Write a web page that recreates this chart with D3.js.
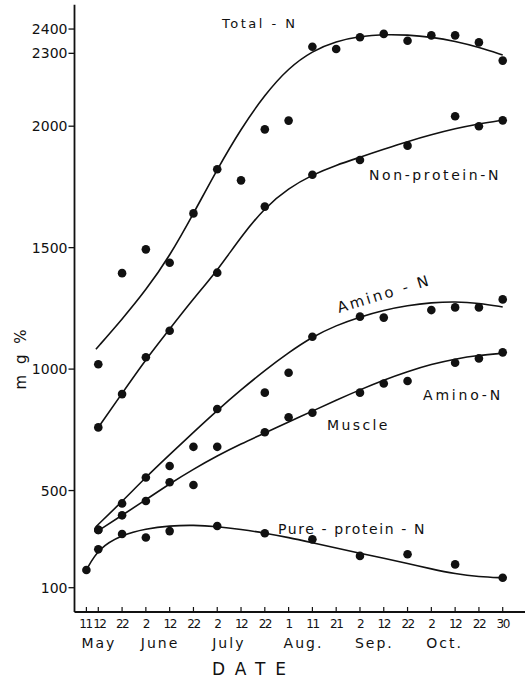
<!DOCTYPE html>
<html>
<head>
<meta charset="utf-8">
<script src="https://cdn.jsdelivr.net/npm/d3@7"></script>
<style>
  body { margin: 0; background: #fff; }
  text { font-family: "DejaVu Sans", sans-serif; fill: #111; }
</style>
</head>
<body>
<div id="chart"></div>
<script>
// sampling dates; position is the 10-day period counted from May 12
const tickLabels = ["11","12","22","2","12","22","2","12","22","1","11","21","2","12","22","2","12","22","30"];
const tickPos = [-0.5, 0, 1, 2, 3, 4, 5, 6, 7, 8, 9, 10, 11, 12, 13, 14, 15, 16, 17];
const months = ["May", "June", "July", "Aug.", "Sep.", "Oct."];
const monthStart = [-0.5, 2, 5, 8, 11, 14];
const yTicks = [100, 500, 1000, 1500, 2000, 2300, 2400];

// measured points (mg %)
const totalN = [[0,1020],[1,1395],[2,1493],[3,1438],[4,1641],[5,1823],[6,1777],[7,1987],[8,2023],
  [9,2327],[10,2318],[11,2366],[12,2380],[13,2352],[14,2374],[15,2374],[16,2345],[17,2270]];
const nonProteinN = [[0,760],[1,897],[2,1049],[3,1158],[5,1397],[7,1669],[9,1800],[11,1861],
  [13,1920],[15,2041],[16,2000],[17,2024]];
const aminoN = [[0,338],[1,447],[2,554],[3,601],[4,680],[5,836],[7,903],[8,985],[9,1133],
  [11,1216],[12,1212],[14,1243],[15,1254],[16,1254],[17,1287]];
const muscleAminoN = [[0,338],[1,398],[2,457],[3,534],[4,523],[5,680],[7,740],[8,802],[9,820],
  [11,903],[12,941],[13,951],[15,1026],[16,1044],[17,1069]];
const pureProteinN = [[-0.5,173],[0,258],[1,321],[2,307],[3,333],[5,354],[7,324],[9,299],
  [11,231],[13,238],[15,196],[17,141]];

// hand-fitted curves as drawn
const totalFit = [[-0.1,1082],[1,1205],[2,1325],[3,1465],[4,1640],[5,1823],[6,1990],[7,2130],
  [8,2240],[9,2310],[10,2350],[11,2370],[12,2378],[13,2376],[14,2367],[15,2350],[16,2325],[17,2293]];
const nonProteinFit = [[0,760],[1,900],[2,1040],[3,1165],[4,1290],[5,1405],[6,1545],[7,1665],
  [8,1745],[9,1800],[10,1840],[11,1872],[12,1905],[13,1937],[14,1965],[15,1990],[16,2010],[17,2025]];
const aminoFit = [[-0.1,351],[1,455],[2,555],[3,648],[4,740],[5,830],[6,915],[7,995],[8,1068],
  [9,1133],[10,1180],[11,1215],[12,1243],[13,1262],[14,1274],[15,1278],[16,1272],[17,1256]];
const muscleFit = [[0,335],[1,398],[2,462],[3,528],[4,588],[5,643],[6,692],[7,737],[8,782],
  [9,827],[10,872],[11,915],[12,955],[13,990],[14,1020],[15,1042],[16,1057],[17,1065]];
const pureFit = [[-0.5,173],[0,262],[1,318],[2,343],[3,355],[4,358],[5,352],[6,340],[7,325],
  [8,307],[9,285],[10,263],[11,242],[12,221],[13,200],[14,177],[15,157],[16,145],[17,141]];

const width = 525;
const height = 679;

const svg = d3.select("#chart")
  .append("svg")
  .attr("width", width)
  .attr("height", height);

const x = d3.scaleLinear().domain([-1, 18]).range([74.5, 526.5]);
const y = d3.scaleLinear().domain([0, 2500]).range([612, 4.75]);

// axes
svg.append("line")
  .attr("x1", x(-1)).attr("x2", x(-1))
  .attr("y1", y(2500)).attr("y2", y(0))
  .attr("stroke", "#111").attr("stroke-width", 1.8);
svg.append("line")
  .attr("x1", x(-1)).attr("x2", width)
  .attr("y1", y(0)).attr("y2", y(0))
  .attr("stroke", "#111").attr("stroke-width", 1.8);

svg.selectAll(".ytick")
  .data(yTicks)
  .enter().append("line")
  .attr("x1", x(-1) - 6).attr("x2", x(-1))
  .attr("y1", d => y(d)).attr("y2", d => y(d))
  .attr("stroke", "#111").attr("stroke-width", 1.3);

svg.selectAll(".ylab")
  .data(yTicks)
  .enter().append("text")
  .attr("x", x(-1) - 7)
  .attr("y", d => y(d))
  .attr("dy", "0.36em")
  .attr("text-anchor", "end")
  .style("font-size", "14px")
  .text(d => d);

svg.selectAll(".xtick")
  .data(tickPos)
  .enter().append("line")
  .attr("x1", d => x(d)).attr("x2", d => x(d))
  .attr("y1", y(0) - 5).attr("y2", y(0))
  .attr("stroke", "#111").attr("stroke-width", 1.2);

svg.selectAll(".xlab")
  .data(tickPos)
  .enter().append("text")
  .attr("x", (d, i) => x(d) + (i === 0 ? -1 : i === 1 ? 1 : 0))
  .attr("y", 628)
  .attr("text-anchor", "middle")
  .style("font-size", "12px")
  .style("letter-spacing", "-1.5px")
  .text((d, i) => tickLabels[i]);

svg.selectAll(".month")
  .data(months)
  .enter().append("text")
  .attr("x", (d, i) => x(monthStart[i]) - 5)
  .attr("y", 648)
  .style("font-size", "14px")
  .style("letter-spacing", "2px")
  .text(d => d);

svg.append("text")
  .attr("x", 254).attr("y", 675)
  .attr("text-anchor", "middle")
  .style("font-size", "17px")
  .style("letter-spacing", "10px")
  .text("DATE");

svg.append("text")
  .attr("transform", "translate(26,358) rotate(-90)")
  .attr("text-anchor", "middle")
  .style("font-size", "15px")
  .style("letter-spacing", "3px")
  .text("m g %");

// curves
const line = d3.line()
  .x(d => x(d[0]))
  .y(d => y(d[1]))
  .curve(d3.curveBasis);

[totalFit, nonProteinFit, aminoFit, muscleFit, pureFit].forEach(fit => {
  svg.append("path")
    .attr("d", line(fit))
    .attr("fill", "none")
    .attr("stroke", "#111")
    .attr("stroke-width", 1.6);
});

// points
[totalN, nonProteinN, aminoN, muscleAminoN, pureProteinN].forEach(series => {
  svg.append("g")
    .selectAll("circle")
    .data(series)
    .enter().append("circle")
    .attr("cx", d => x(d[0]))
    .attr("cy", d => y(d[1]))
    .attr("r", 4.3)
    .attr("fill", "#111");
});

// curve labels
svg.append("text").attr("x", 222).attr("y", 28)
  .style("font-size", "13px").style("letter-spacing", "2.5px").text("Total - N");
svg.append("text").attr("x", 369).attr("y", 180)
  .style("font-size", "14px").style("letter-spacing", "2.6px").text("Non-protein-N");
svg.append("text")
  .attr("transform", "translate(339,313) rotate(-17)")
  .style("font-size", "15px").style("letter-spacing", "2.6px").text("Amino - N");
svg.append("text").attr("x", 423).attr("y", 400)
  .style("font-size", "14px").style("letter-spacing", "2.8px").text("Amino-N");
svg.append("text").attr("x", 327).attr("y", 430)
  .style("font-size", "14px").style("letter-spacing", "2.4px").text("Muscle");
svg.append("text").attr("x", 278).attr("y", 534)
  .style("font-size", "14px").style("letter-spacing", "1.6px").text("Pure - protein - N");
</script>
</body>
</html>
